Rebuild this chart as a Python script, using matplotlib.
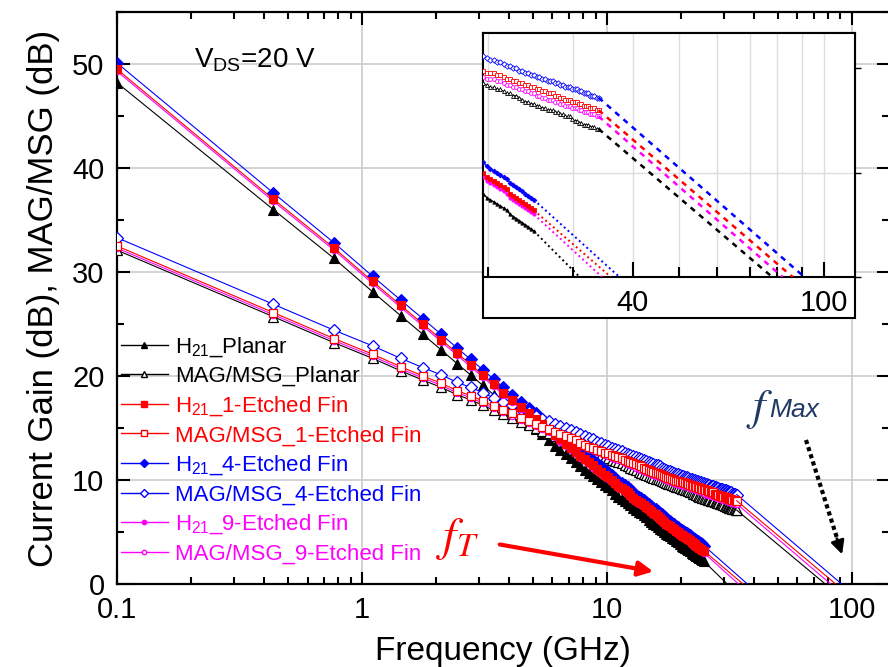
import matplotlib
matplotlib.use('Agg')
import matplotlib.pyplot as plt
from matplotlib.patches import Rectangle
from matplotlib.lines import Line2D
from matplotlib.ticker import FixedLocator, FixedFormatter, NullFormatter, LogLocator, MultipleLocator

plt.rcParams['font.family'] = ['Liberation Sans', 'DejaVu Sans']
plt.rcParams['mathtext.fontset'] = 'custom'
plt.rcParams['mathtext.rm'] = 'Liberation Sans'
plt.rcParams['mathtext.it'] = 'Liberation Sans:italic'
plt.rcParams['mathtext.bf'] = 'Liberation Sans:bold'

# ---------------- data ----------------
freq_GHz = [0.1, 0.435, 0.77, 1.105, 1.44, 1.775, 2.11, 2.445, 2.78, 3.115,
            3.45, 3.785, 4.12, 4.455, 4.79, 5.125, 5.46, 5.795, 6.13, 6.465,
            6.8, 7.135, 7.47, 7.805, 8.14, 8.475, 8.81, 9.145, 9.48, 9.815,
            10.15, 10.485, 10.82, 11.155, 11.49, 11.825, 12.16, 12.495, 12.83, 13.165,
            13.5, 13.835, 14.17, 14.505, 14.84, 15.175, 15.51, 15.845, 16.18, 16.515,
            16.85, 17.185, 17.52, 17.855, 18.19, 18.525, 18.86, 19.195, 19.53, 19.865,
            20.2, 20.535, 20.87, 21.205, 21.54, 21.875, 22.21, 22.545, 22.88, 23.215,
            23.55, 23.885, 24.22, 24.555, 24.89, 25.225, 25.56, 25.895, 26.23, 26.565,
            26.9, 27.235, 27.57, 27.905, 28.24, 28.575, 28.91, 29.245, 29.58, 29.915,
            30.25, 30.585, 30.92, 31.255, 31.59, 31.925, 32.26, 32.595, 32.93, 33.265,
            33.6, 33.935]

h21_planar = [48.2, 36.0, 31.3, 28.1, 25.8, 24.0, 22.5, 21.2, 20.1, 19.1,
              18.2, 17.4, 16.7, 16.0, 15.4, 14.9, 14.4, 13.8, 13.3, 12.9,
              12.5, 12.1, 11.7, 11.3, 11.0, 10.7, 10.4, 10.1, 9.8, 9.5,
              9.3, 9.0, 8.7, 8.4, 8.2, 8.0, 7.8, 7.6, 7.3, 7.1,
              6.9, 6.8, 6.6, 6.4, 6.2, 6.0, 5.8, 5.7, 5.5, 5.3,
              5.2, 5.0, 4.8, 4.7, 4.6, 4.4, 4.3, 4.1, 4.0, 3.8,
              3.7, 3.6, 3.5, 3.4, 3.3, 3.2, 3.0, 2.9, 2.8, 2.7,
              2.6, 2.5, 2.4, 2.3, 2.2]
h21_fin1 = [49.5, 37.0, 32.3, 29.1, 26.8, 25.0, 23.5, 22.2, 21.1, 20.1,
            19.2, 18.4, 17.7, 17.0, 16.4, 15.9, 15.4, 14.8, 14.3, 13.9,
            13.5, 13.1, 12.7, 12.3, 12.0, 11.7, 11.4, 11.1, 10.8, 10.5,
            10.3, 10.0, 9.7, 9.4, 9.2, 9.0, 8.8, 8.6, 8.3, 8.1,
            7.9, 7.8, 7.6, 7.4, 7.2, 7.0, 6.8, 6.7, 6.5, 6.3,
            6.2, 6.0, 5.8, 5.7, 5.6, 5.4, 5.3, 5.1, 5.0, 4.8,
            4.7, 4.6, 4.5, 4.4, 4.3, 4.2, 4.0, 3.9, 3.8, 3.7,
            3.6, 3.5, 3.4, 3.3, 3.2]
h21_fin4 = [50.1, 37.6, 32.8, 29.6, 27.3, 25.5, 24.0, 22.7, 21.6, 20.6,
            19.7, 18.9, 18.2, 17.5, 16.9, 16.4, 15.9, 15.3, 14.8, 14.4,
            14.0, 13.6, 13.2, 12.8, 12.5, 12.2, 11.9, 11.6, 11.3, 11.0,
            10.8, 10.5, 10.2, 9.9, 9.7, 9.5, 9.3, 9.1, 8.8, 8.6,
            8.4, 8.3, 8.1, 7.9, 7.7, 7.5, 7.3, 7.2, 7.0, 6.8,
            6.7, 6.5, 6.3, 6.2, 6.1, 5.9, 5.8, 5.6, 5.5, 5.3,
            5.2, 5.1, 5.0, 4.9, 4.8, 4.7, 4.5, 4.4, 4.3, 4.2,
            4.1, 4.0, 3.9, 3.8, 3.7]
h21_fin9 = [49.3, 36.8, 32.1, 28.9, 26.6, 24.8, 23.3, 22.0, 20.9, 19.9,
            19.0, 18.2, 17.5, 16.8, 16.2, 15.7, 15.2, 14.6, 14.1, 13.7,
            13.3, 12.9, 12.5, 12.1, 11.8, 11.5, 11.2, 10.9, 10.6, 10.3,
            10.1, 9.8, 9.5, 9.2, 9.0, 8.8, 8.6, 8.4, 8.1, 7.9,
            7.7, 7.6, 7.4, 7.2, 7.0, 6.8, 6.6, 6.5, 6.3, 6.1,
            6.0, 5.8, 5.6, 5.5, 5.4, 5.2, 5.1, 4.9, 4.8, 4.6,
            4.5, 4.4, 4.3, 4.2, 4.1, 4.0, 3.8, 3.7, 3.6, 3.5,
            3.4, 3.3, 3.2, 3.1, 3.0]

mag_planar = [32.1, 25.7, 23.2, 21.7, 20.5, 19.6, 18.9, 18.2, 17.7, 17.2,
              16.7, 16.3, 16.0, 15.6, 15.3, 15.0, 14.7, 14.5, 14.2, 14.0,
              13.8, 13.6, 13.4, 13.2, 13.0, 12.8, 12.7, 12.5, 12.4, 12.2,
              12.1, 11.9, 11.8, 11.7, 11.6, 11.4, 11.3, 11.2, 11.1, 11.0,
              10.8, 10.7, 10.6, 10.5, 10.4, 10.3, 10.2, 10.1, 10.1, 10.0,
              9.9, 9.8, 9.7, 9.6, 9.6, 9.5, 9.4, 9.3, 9.3, 9.2,
              9.1, 9.1, 9.0, 9.0, 8.9, 8.8, 8.8, 8.7, 8.7, 8.6,
              8.5, 8.4, 8.4, 8.3, 8.3, 8.2, 8.2, 8.1, 8.1, 8.0,
              8.0, 8.0, 7.9, 7.9, 7.8, 7.8, 7.7, 7.7, 7.7, 7.6,
              7.5, 7.5, 7.4, 7.4, 7.3, 7.3, 7.3, 7.2, 7.2, 7.2,
              7.1, 7.1]
mag_fin1 = [32.5, 26.1, 23.6, 22.1, 20.9, 20.0, 19.3, 18.6, 18.1, 17.6,
            17.1, 16.7, 16.4, 16.0, 15.7, 15.4, 15.1, 14.9, 14.6, 14.4,
            14.2, 14.0, 13.8, 13.6, 13.4, 13.2, 13.1, 12.9, 12.8, 12.6,
            12.6, 12.4, 12.3, 12.2, 12.1, 11.9, 11.8, 11.7, 11.6, 11.5,
            11.4, 11.3, 11.2, 11.1, 11.0, 10.9, 10.8, 10.7, 10.7, 10.6,
            10.5, 10.4, 10.3, 10.2, 10.2, 10.1, 10.0, 9.9, 9.9, 9.8,
            9.8, 9.8, 9.7, 9.7, 9.6, 9.5, 9.5, 9.4, 9.4, 9.3,
            9.3, 9.2, 9.2, 9.1, 9.1, 9.0, 9.0, 8.9, 8.9, 8.8,
            8.8, 8.8, 8.7, 8.7, 8.6, 8.6, 8.5, 8.5, 8.5, 8.4,
            8.4, 8.4, 8.3, 8.3, 8.2, 8.2, 8.2, 8.1, 8.1, 8.1,
            8.0, 8.0]
mag_fin4 = [33.3, 26.9, 24.4, 22.9, 21.7, 20.8, 20.1, 19.4, 18.9, 18.4,
            17.9, 17.5, 17.2, 16.8, 16.5, 16.2, 15.9, 15.7, 15.4, 15.2,
            15.0, 14.8, 14.6, 14.4, 14.2, 14.0, 13.9, 13.7, 13.6, 13.4,
            13.3, 13.1, 13.0, 12.9, 12.8, 12.6, 12.5, 12.4, 12.3, 12.2,
            12.1, 12.0, 11.9, 11.8, 11.7, 11.6, 11.5, 11.4, 11.4, 11.3,
            11.2, 11.1, 11.0, 10.9, 10.9, 10.8, 10.7, 10.6, 10.6, 10.5,
            10.4, 10.4, 10.3, 10.3, 10.2, 10.1, 10.1, 10.0, 10.0, 9.9,
            9.9, 9.8, 9.8, 9.7, 9.7, 9.6, 9.6, 9.5, 9.5, 9.4,
            9.4, 9.4, 9.3, 9.3, 9.2, 9.2, 9.1, 9.1, 9.1, 9.0,
            9.0, 9.0, 8.9, 8.9, 8.8, 8.8, 8.8, 8.7, 8.7, 8.7,
            8.6, 8.6]
mag_fin9 = [32.3, 25.9, 23.4, 21.9, 20.7, 19.8, 19.1, 18.4, 17.9, 17.4,
            16.9, 16.5, 16.2, 15.8, 15.5, 15.2, 14.9, 14.7, 14.4, 14.2,
            14.0, 13.8, 13.6, 13.4, 13.2, 13.0, 12.9, 12.7, 12.6, 12.4,
            12.3, 12.1, 12.0, 11.9, 11.8, 11.6, 11.5, 11.4, 11.3, 11.2,
            11.1, 11.0, 10.9, 10.8, 10.7, 10.6, 10.5, 10.4, 10.4, 10.3,
            10.2, 10.1, 10.0, 9.9, 9.9, 9.8, 9.7, 9.6, 9.6, 9.5,
            9.5, 9.5, 9.4, 9.4, 9.3, 9.2, 9.2, 9.1, 9.1, 9.0,
            9.0, 8.9, 8.9, 8.8, 8.8, 8.7, 8.7, 8.6, 8.6, 8.5,
            8.5, 8.5, 8.4, 8.4, 8.3, 8.3, 8.2, 8.2, 8.2, 8.1,
            8.1, 8.1, 8.0, 8.0, 7.9, 7.9, 7.9, 7.8, 7.8, 7.8,
            7.7, 7.7]

devices = ['Planar', '1-Etched Fin', '4-Etched Fin', '9-Etched Fin']
fT_GHz = [31.0, 36.0, 37.5, 34.5]      # extrapolated H21 = 0 dB
fmax_GHz = [78.0, 86.0, 91.0, 82.0]    # extrapolated MAG = 0 dB

h21_all = [h21_planar, h21_fin1, h21_fin4, h21_fin9]
mag_all = [mag_planar, mag_fin1, mag_fin4, mag_fin9]

# ---------------- styles ----------------
colors = ['black', 'red', 'blue', 'magenta']
markers = ['^', 's', 'D', 'o']
msizes = [6.5, 5.6, 5.8, 4.5]
draw_order = [0, 2, 3, 1]

W, H = 888, 667
fig = plt.figure(figsize=(W / 100, H / 100), dpi=100)


def fx(x):
    return x / W


def fy(y):
    return 1 - y / H


ax = fig.add_axes([fx(117), fy(584), (889 - 117) / W, (584 - 12) / H])
ax.set_xscale('log')
ax.set_xlim(0.1, 142)
ax.set_ylim(0, 55)

n_h = len(h21_planar)
for i in draw_order:
    c = colors[i]
    ax.plot(freq_GHz[:n_h], h21_all[i], color=c, lw=0.8, marker=markers[i],
            ms=msizes[i], mfc=c, mec=c, mew=0.8, zorder=3)
    ax.plot(freq_GHz, mag_all[i], color=c, lw=0.8, marker=markers[i],
            ms=msizes[i], mfc='white', mec=c, mew=0.9, zorder=3)
    ax.plot([freq_GHz[n_h - 1], fT_GHz[i]], [h21_all[i][-1], 0], color=c, lw=0.8, zorder=3)
    ax.plot([freq_GHz[-1], fmax_GHz[i]], [mag_all[i][-1], 0], color=c, lw=0.8, zorder=3)

ax.xaxis.set_major_locator(FixedLocator([0.1, 1, 10, 100]))
ax.xaxis.set_major_formatter(FixedFormatter(['0.1', '1', '10', '100']))
ax.xaxis.set_minor_locator(LogLocator(base=10, subs=range(2, 10)))
ax.xaxis.set_minor_formatter(NullFormatter())
ax.yaxis.set_major_locator(MultipleLocator(10))
ax.yaxis.set_minor_locator(MultipleLocator(5))
ax.tick_params(which='both', direction='in', top=True, right=True, width=1.5,
               labelsize=21, pad=9)
ax.tick_params(which='major', length=9)
ax.tick_params(which='minor', length=5)
for s in ax.spines.values():
    s.set_linewidth(1.6)
ax.grid(True, which='major', color='#cccccc', lw=1.2, zorder=0)
ax.set_axisbelow(True)

ax.set_xlabel('Frequency (GHz)', fontsize=24, labelpad=8)
ax.set_ylabel('Current Gain (dB), MAG/MSG (dB)', fontsize=25, labelpad=9)

# legend
handles, labels = [], []
for i, d in enumerate(devices):
    c = colors[i]
    handles.append(Line2D([], [], color=c, lw=1.0, marker=markers[i], ms=msizes[i] * 0.7,
                          mfc=c, mec=c))
    labels.append('H$_{21}$_' + d)
    handles.append(Line2D([], [], color=c, lw=1.0, marker=markers[i], ms=msizes[i] * 0.7,
                          mfc='white', mec=c))
    labels.append('MAG/MSG_' + d)
leg = ax.legend(handles, labels, loc='upper left', bbox_to_anchor=(fx(121), fy(335)),
                bbox_transform=fig.transFigure, frameon=False, fontsize=16,
                handlelength=2.1, handletextpad=0.35, labelspacing=0.33,
                borderpad=0, borderaxespad=0)
for t, i in zip(leg.get_texts(), [0, 0, 1, 1, 2, 2, 3, 3]):
    t.set_color(colors[i])

# text annotations
fig.text(fx(194), fy(67), 'V$_{\\mathrm{DS}}$=20 V', fontsize=20, va='baseline', ha='left')
fig.text(fx(436), fy(550), r'$f_T$', fontsize=34, color='red', math_fontfamily='stix',
         va='baseline', ha='left')
fig.text(fx(746), fy(420), r'$f$', fontsize=32, color='#1F3864', math_fontfamily='stix',
         va='baseline', ha='left')
fig.text(fx(769), fy(417), 'Max', fontsize=19, color='#1F3864', style='italic',
         va='baseline', ha='left')

ax.annotate('', xy=(fx(656), fy(572)), xytext=(fx(497), fy(544)),
            xycoords='figure fraction', textcoords='figure fraction',
            arrowprops=dict(arrowstyle='-|>', color='red', lw=3, mutation_scale=22))
fig.add_artist(Line2D([fx(806), fx(837)], [fy(440), fy(538)], color='black', lw=3,
                      linestyle=(0, (1, 0.8)), transform=fig.transFigure))
ax.annotate('', xy=(fx(843), fy(557)), xytext=(fx(836), fy(536)),
            xycoords='figure fraction', textcoords='figure fraction',
            arrowprops=dict(arrowstyle='-|>', color='black', lw=2, mutation_scale=20))

# ---------------- inset ----------------
rect = Rectangle((fx(483), fy(318)), (855 - 483) / W, (318 - 33) / H,
                 transform=fig.transFigure, facecolor='white', edgecolor='black',
                 lw=1.5, zorder=5)
fig.add_artist(rect)
axi = fig.add_axes([fx(483), fy(277), (855 - 483) / W, (277 - 33) / H], zorder=6)
axi.set_xscale('log')
axi.set_xlim(19.5, 116)
axi.set_ylim(0, 11.7)
axi.axhline(5, color='#dddddd', lw=1.0, zorder=1)
for i in draw_order:
    c = colors[i]
    axi.plot(freq_GHz[:n_h], h21_all[i], color=c, lw=1.0, marker=markers[i],
             ms=2.4, mfc=c, mec=c, mew=0.6, zorder=3)
    axi.plot(freq_GHz, mag_all[i], color=c, lw=0.6, marker=markers[i],
             ms=2.8, mfc='white', mec=c, mew=0.6, zorder=3)
    axi.plot([freq_GHz[n_h - 1], fT_GHz[i]], [h21_all[i][-1], 0], color=c, lw=1.4,
             linestyle=(0, (1, 1.6)), zorder=3)
    axi.plot([freq_GHz[-1], fmax_GHz[i]], [mag_all[i][-1], 0], color=c, lw=1.8,
             linestyle=(0, (2.2, 2.2)), zorder=3)
axi.xaxis.set_major_locator(FixedLocator([40, 100]))
axi.xaxis.set_major_formatter(FixedFormatter(['40', '100']))
axi.xaxis.set_minor_locator(FixedLocator([20, 30, 50, 60, 70, 80, 90]))
axi.xaxis.set_minor_formatter(NullFormatter())
axi.yaxis.set_major_locator(FixedLocator([0, 5, 10]))
axi.yaxis.set_ticks_position('right')
axi.tick_params(axis='y', which='both', direction='out', length=4, width=1,
                labelright=False, labelleft=False)
axi.tick_params(axis='x', which='both', direction='in', width=1.5, labelsize=21, pad=9)
axi.tick_params(axis='x', which='major', length=11)
axi.tick_params(axis='x', which='minor', length=7)
axi.grid(True, which='both', axis='x', color='#dddddd', lw=1.0)
axi.set_axisbelow(True)
for s in axi.spines.values():
    s.set_linewidth(1.5)

fig.savefig('out.png', dpi=100)
